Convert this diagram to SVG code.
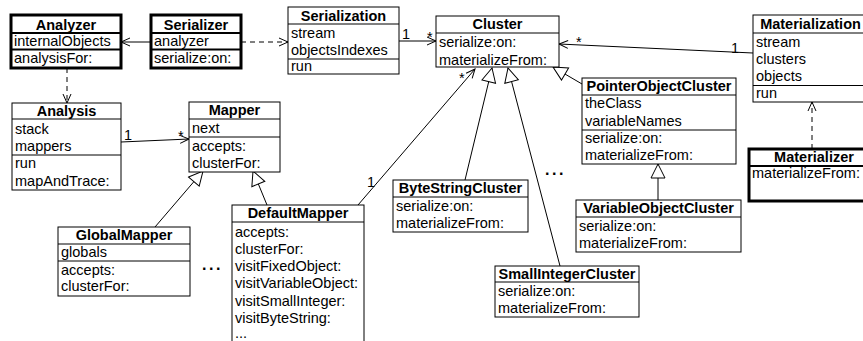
<svg xmlns="http://www.w3.org/2000/svg" width="863" height="341" viewBox="0 0 863 341">
<style>
text{font-family:"Liberation Sans",Arial,Helvetica,sans-serif;font-size:14.5px;fill:#000}
.t{font-weight:bold;text-anchor:middle}
.b{fill:#fff;stroke:#000;stroke-width:1}
.k{fill:#fff;stroke:#000;stroke-width:3}
.s{stroke:#000;stroke-width:1;fill:none}
.sk{stroke:#000;stroke-width:2;fill:none}
.d{stroke:#000;stroke-width:1;fill:none;stroke-dasharray:5,4}
.dots{font-size:16px;font-weight:bold;letter-spacing:2.5px}
</style>
<defs>
<marker id="open" markerUnits="userSpaceOnUse" markerWidth="12" markerHeight="12" refX="9" refY="4" orient="auto" overflow="visible">
<path d="M0,0 L9,4 L0,8" fill="none" stroke="#000" stroke-width="1"/>
</marker>
<marker id="tri" markerUnits="userSpaceOnUse" markerWidth="16" markerHeight="16" refX="14" refY="7" orient="auto" overflow="visible">
<path d="M0,0 L14,7 L0,14 Z" fill="#fff" stroke="#000" stroke-width="1"/>
</marker>
</defs>
<rect width="863" height="341" fill="#fff"/>

<g id="connectors">
<line class="s" x1="151" y1="42" x2="121" y2="42" marker-end="url(#open)"/>
<line class="d" x1="241" y1="42" x2="288" y2="42" marker-end="url(#open)"/>
<line class="d" x1="67" y1="68" x2="67" y2="103" marker-end="url(#open)"/>
<line class="s" x1="121" y1="142" x2="189" y2="139" marker-end="url(#open)"/>
<line class="s" x1="399" y1="41" x2="436" y2="41" marker-end="url(#open)"/>
<line class="s" x1="753" y1="53" x2="559" y2="44" marker-end="url(#open)"/>
<line class="s" x1="358" y1="205" x2="475" y2="69" marker-end="url(#open)"/>
<line class="d" x1="812" y1="149" x2="812" y2="102" marker-end="url(#open)"/>
<line class="s" x1="155" y1="227" x2="203" y2="171" marker-end="url(#tri)"/>
<line class="s" x1="267" y1="205" x2="253" y2="171" marker-end="url(#tri)"/>
<line class="s" x1="465" y1="180" x2="492" y2="68" marker-end="url(#tri)"/>
<line class="s" x1="560" y1="266" x2="508" y2="68" marker-end="url(#tri)"/>
<line class="s" x1="582" y1="84" x2="553" y2="67" marker-end="url(#tri)"/>
<line class="s" x1="658" y1="200" x2="658" y2="164" marker-end="url(#tri)"/>
<text x="124" y="140">1</text>
<text x="178" y="141">*</text>
<text x="402" y="39">1</text>
<text x="427" y="42">*</text>
<text x="731" y="53">1</text>
<text x="576" y="47">*</text>
<text x="367" y="187">1</text>
<text x="459" y="83">*</text>
<text class="dots" x="202" y="270">...</text>
<text class="dots" x="545" y="175">...</text>
</g>

<g id="Analyzer">
<rect class="k" x="11" y="15" width="110" height="53"/>
<line class="sk" x1="11" y1="33" x2="121" y2="33"/>
<line class="sk" x1="11" y1="49.5" x2="121" y2="49.5"/>
<text class="t" x="66" y="29.5">Analyzer</text>
<text x="14" y="46">internalObjects</text>
<text x="14" y="63">analysisFor:</text>
</g>

<g id="Serializer">
<rect class="k" x="151" y="15" width="90" height="53"/>
<line class="sk" x1="151" y1="33" x2="241" y2="33"/>
<line class="sk" x1="151" y1="49.5" x2="241" y2="49.5"/>
<text class="t" x="196" y="29.5">Serializer</text>
<text x="154" y="46">analyzer</text>
<text x="154" y="63">serialize:on:</text>
</g>

<g id="Serialization">
<rect class="b" x="288" y="7" width="111" height="67"/>
<line class="s" x1="288" y1="24" x2="399" y2="24"/>
<line class="s" x1="288" y1="59" x2="399" y2="59"/>
<text class="t" x="343.5" y="21">Serialization</text>
<text x="291" y="38">stream</text>
<text x="291" y="55">objectsIndexes</text>
<text x="291" y="71">run</text>
</g>

<g id="Cluster">
<rect class="b" x="436" y="16" width="123" height="51"/>
<line class="s" x1="436" y1="33" x2="559" y2="33"/>
<text class="t" x="497.5" y="29">Cluster</text>
<text x="439" y="47">serialize:on:</text>
<text x="439" y="64.5">materializeFrom:</text>
</g>

<g id="Materialization">
<rect class="b" x="753" y="15" width="115" height="87"/>
<line class="s" x1="753" y1="33" x2="868" y2="33"/>
<line class="s" x1="753" y1="85.5" x2="868" y2="85.5"/>
<text class="t" x="810.5" y="28.5">Materialization</text>
<text x="756" y="47">stream</text>
<text x="756" y="64">clusters</text>
<text x="756" y="81">objects</text>
<text x="756" y="98">run</text>
</g>

<g id="Materializer">
<rect class="k" x="749" y="149" width="130" height="52"/>
<line class="sk" x1="749" y1="166" x2="879" y2="166"/>
<text class="t" x="814" y="162">Materializer</text>
<text x="752" y="178">materializeFrom:</text>
</g>

<g id="Analysis">
<rect class="b" x="12" y="103" width="109" height="87"/>
<line class="s" x1="12" y1="119" x2="121" y2="119"/>
<line class="s" x1="12" y1="155" x2="121" y2="155"/>
<text class="t" x="66.5" y="116">Analysis</text>
<text x="15" y="134">stack</text>
<text x="15" y="151">mappers</text>
<text x="15" y="168">run</text>
<text x="15" y="186">mapAndTrace:</text>
</g>

<g id="Mapper">
<rect class="b" x="189" y="102" width="91" height="70"/>
<line class="s" x1="189" y1="119" x2="280" y2="119"/>
<line class="s" x1="189" y1="137" x2="280" y2="137"/>
<text class="t" x="234.5" y="115">Mapper</text>
<text x="192" y="133">next</text>
<text x="192" y="151">accepts:</text>
<text x="192" y="168">clusterFor:</text>
</g>

<g id="PointerObjectCluster">
<rect class="b" x="582" y="78" width="154" height="86"/>
<line class="s" x1="582" y1="95" x2="736" y2="95"/>
<line class="s" x1="582" y1="130" x2="736" y2="130"/>
<text class="t" x="659" y="91">PointerObjectCluster</text>
<text x="585" y="108">theClass</text>
<text x="585" y="126">variableNames</text>
<text x="585" y="143">serialize:on:</text>
<text x="585" y="160">materializeFrom:</text>
</g>

<g id="VariableObjectCluster">
<rect class="b" x="576" y="200" width="165" height="52"/>
<line class="s" x1="576" y1="217" x2="741" y2="217"/>
<text class="t" x="658.5" y="213">VariableObjectCluster</text>
<text x="579" y="231">serialize:on:</text>
<text x="579" y="248">materializeFrom:</text>
</g>

<g id="SmallIntegerCluster">
<rect class="b" x="495" y="266" width="144" height="51"/>
<line class="s" x1="495" y1="282" x2="639" y2="282"/>
<text class="t" x="567" y="279">SmallIntegerCluster</text>
<text x="498" y="296">serialize:on:</text>
<text x="498" y="313">materializeFrom:</text>
</g>

<g id="ByteStringCluster">
<rect class="b" x="393" y="180" width="135" height="52"/>
<line class="s" x1="393" y1="197" x2="528" y2="197"/>
<text class="t" x="460.5" y="193">ByteStringCluster</text>
<text x="396" y="211">serialize:on:</text>
<text x="396" y="228">materializeFrom:</text>
</g>

<g id="DefaultMapper">
<rect class="b" x="232" y="205" width="132" height="150"/>
<line class="s" x1="232" y1="222" x2="364" y2="222"/>
<text class="t" x="298" y="218">DefaultMapper</text>
<text x="235" y="236.5">accepts:</text>
<text x="235" y="253.8">clusterFor:</text>
<text x="235" y="271.1">visitFixedObject:</text>
<text x="235" y="288.4">visitVariableObject:</text>
<text x="235" y="305.7">visitSmallInteger:</text>
<text x="235" y="323">visitByteString:</text>
<text x="235" y="338">...</text>
</g>

<g id="GlobalMapper">
<rect class="b" x="58" y="227" width="132" height="69"/>
<line class="s" x1="58" y1="244" x2="190" y2="244"/>
<line class="s" x1="58" y1="261" x2="190" y2="261"/>
<text class="t" x="124" y="240">GlobalMapper</text>
<text x="61" y="257">globals</text>
<text x="61" y="275">accepts:</text>
<text x="61" y="291">clusterFor:</text>
</g>
</svg>
